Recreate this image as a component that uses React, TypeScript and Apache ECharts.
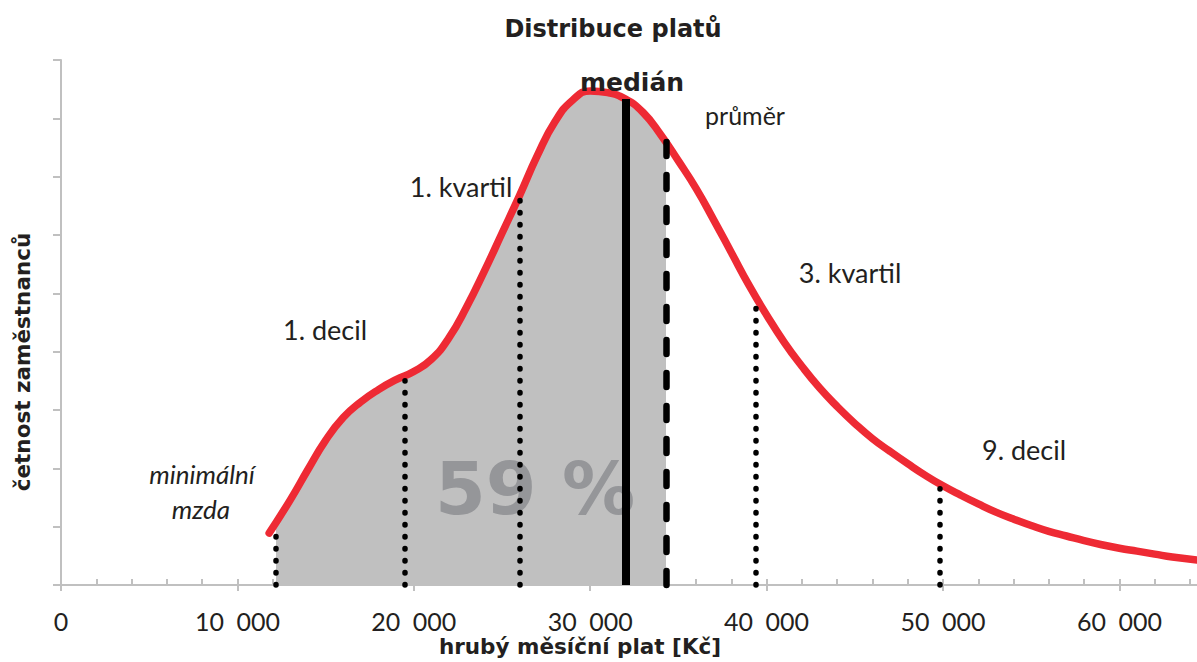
import React, { useEffect, useRef } from "react";
import * as echarts from "echarts";

// salary (Kč) and frequency (relative units) of the distribution curve
const salary = [11800, 13000, 14000, 15000, 16000, 17000, 18000, 19000, 20000, 21000, 22000, 23000, 24000, 25000, 26000, 27000, 28000, 29000, 30000, 31000, 32000, 33000, 34000, 35000, 36000, 37000, 38000, 39000, 40000, 41000, 42000, 43000, 44000, 45000, 46000, 47000, 48000, 49000, 50000, 51000, 52000, 53000, 54000, 55000, 56000, 57000, 58000, 59000, 60000, 61000, 62000, 63000, 64400];
const frequency = [0.89, 1.46, 1.98, 2.48, 2.87, 3.14, 3.35, 3.52, 3.66, 3.87, 4.24, 4.77, 5.38, 6.03, 6.68, 7.36, 7.94, 8.31, 8.47, 8.44, 8.33, 8.1, 7.72, 7.27, 6.8, 6.26, 5.7, 5.14, 4.63, 4.16, 3.75, 3.38, 3.06, 2.77, 2.51, 2.29, 2.08, 1.88, 1.7, 1.54, 1.39, 1.25, 1.13, 1.02, 0.92, 0.84, 0.76, 0.69, 0.63, 0.58, 0.53, 0.48, 0.43];

// markers: minimum wage, 1st decile, 1st quartile, median, mean, 3rd quartile, 9th decile
const markerSalary = [12200, 19500, 26000, 32000, 34300, 39400, 49800];
const markerTop = [0.85, 3.5, 6.6, 8.33, 7.75, 4.92, 1.65];
const markerKind = ["dot", "dot", "dot", "solid", "dash", "dot", "dot"];

// shaded range (minimum wage .. mean)
const shadeFrom = 12200;
const shadeTo = 34300;

const xMajorTicks = [0, 10000, 20000, 30000, 40000, 50000, 60000];
const xMinorTicks = [2000, 4000, 6000, 8000, 10000, 12000, 14000, 16000, 18000, 20000, 22000, 24000, 26000, 28000, 30000, 32000, 34000, 36000, 38000, 40000, 42000, 44000, 46000, 48000, 50000, 52000, 54000, 56000, 58000, 60000, 62000, 64000];

const LIGHT = "Lato, 'Open Sans', sans-serif";
const BOLD = "'DejaVu Sans', sans-serif";

export default function App() {
  const ref = useRef<HTMLDivElement>(null);
  useEffect(() => {
    document.body.style.margin = "0";
    if (!ref.current) return;
    const chart = echarts.init(ref.current, undefined, { renderer: "svg" });
    const curve = salary.map((s, i) => [s, frequency[i]]);
    const styles: Record<string, any> = {
      dot: { color: "#000", width: 5.5, type: [0.5, 11.5], cap: "round" },
      solid: { color: "#000", width: 8, type: "solid", cap: "butt" },
      dash: { color: "#000", width: 6.5, type: [14, 19], cap: "round" },
    };
    const markData = markerSalary.map((s, i) => [
      { coord: [s, 0], lineStyle: styles[markerKind[i]] },
      { coord: [s, markerTop[i]] },
    ]);
    const txt = (text: string, x: number, y: number, size: number, opts: any = {}) => ({
      type: "text",
      x,
      y,
      z: 10,
      style: {
        text,
        fontSize: size,
        fontFamily: LIGHT,
        fill: "#231f20",
        align: "center",
        verticalAlign: "middle",
        ...opts,
      },
    });
    chart.setOption({
      animation: false,
      grid: { left: 61, right: 0, top: 60, bottom: 77 },
      visualMap: {
        type: "piecewise",
        show: false,
        dimension: 0,
        seriesIndex: 0,
        pieces: [{ gte: shadeFrom, lte: shadeTo, color: "#c0c0c0" }],
        outOfRange: { color: "rgba(255,255,255,0)" },
      },
      xAxis: [
        {
          type: "value",
          min: 0,
          max: 64400,
          interval: 10000,
          axisLine: { onZero: false, lineStyle: { color: "#c0c0c0", width: 2 } },
          axisTick: { show: true, inside: false, length: 6, customValues: xMajorTicks, lineStyle: { color: "#c0c0c0", width: 2 } },
          axisLabel: {
            customValues: xMajorTicks,
            margin: 23,
            fontSize: 25,
            fontFamily: LIGHT,
            color: "#231f20",
            formatter: (v: number) => (v === 0 ? "0" : `${v / 1000}\u2002000`),
          },
          splitLine: { show: false },
        },
        {
          type: "value",
          position: "bottom",
          min: 0,
          max: 64400,
          interval: 10000,
          axisLine: { show: false, onZero: false },
          axisTick: { show: true, inside: true, length: 6, customValues: xMinorTicks, lineStyle: { color: "#c0c0c0", width: 2 } },
          axisLabel: { show: false },
          splitLine: { show: false },
        },
      ],
      yAxis: {
        type: "value",
        min: 0,
        max: 9,
        interval: 1,
        axisLine: { show: true, lineStyle: { color: "#c0c0c0", width: 2 } },
        axisTick: { show: true, inside: false, length: 8, lineStyle: { color: "#c0c0c0", width: 2 } },
        axisLabel: { show: false },
        splitLine: { show: false },
      },
      series: [
        {
          type: "line",
          z: 1,
          data: curve,
          smooth: true,
          symbol: "none",
          lineStyle: { width: 0 },
          areaStyle: { opacity: 1 },
          silent: true,
        },
        {
          type: "line",
          z: 3,
          data: [],
          symbol: "none",
          markLine: {
            silent: true,
            symbol: ["none", "none"],
            label: { show: false },
            data: markData,
          },
        },
        {
          type: "line",
          z: 4,
          data: curve,
          smooth: true,
          symbol: "none",
          lineStyle: { color: "#ee2a34", width: 7.5, cap: "round", join: "round" },
          silent: true,
        },
      ],
      graphic: [
        {
          type: "text",
          x: 535,
          y: 488,
          z: 2,
          style: {
            text: "59 %",
            fontSize: 73,
            fontWeight: "bold",
            fontFamily: BOLD,
            fill: "#959699",
            align: "center",
            verticalAlign: "middle",
          },
        },
        txt("Distribuce platů", 613, 29, 24, { fontFamily: BOLD, fontWeight: "bold" }),
        txt("hrubý měsíční plat [Kč]", 580, 646, 21.5, { fontFamily: BOLD, fontWeight: "bold" }),
        {
          type: "text",
          x: 22,
          y: 362,
          rotation: Math.PI / 2,
          z: 10,
          style: {
            text: "četnost zaměstnanců",
            fontSize: 21.5,
            fontFamily: BOLD,
            fontWeight: "bold",
            fill: "#231f20",
            align: "center",
            verticalAlign: "middle",
          },
        },
        txt("minimální", 202, 474, 26, { fontStyle: "italic" }),
        txt("mzda", 201, 509, 26, { fontStyle: "italic" }),
        txt("1. decil", 325, 329, 27),
        txt("1. kvartil", 461, 186, 27),
        txt("medián", 632, 82, 25, { fontFamily: BOLD, fontWeight: "bold" }),
        txt("průměr", 745, 115, 25),
        txt("3. kvartil", 850, 272, 27),
        txt("9. decil", 1024, 449, 27),
      ],
    });
    return () => chart.dispose();
  }, []);
  return <div ref={ref} style={{ width: 1197, height: 662 }} />;
}
